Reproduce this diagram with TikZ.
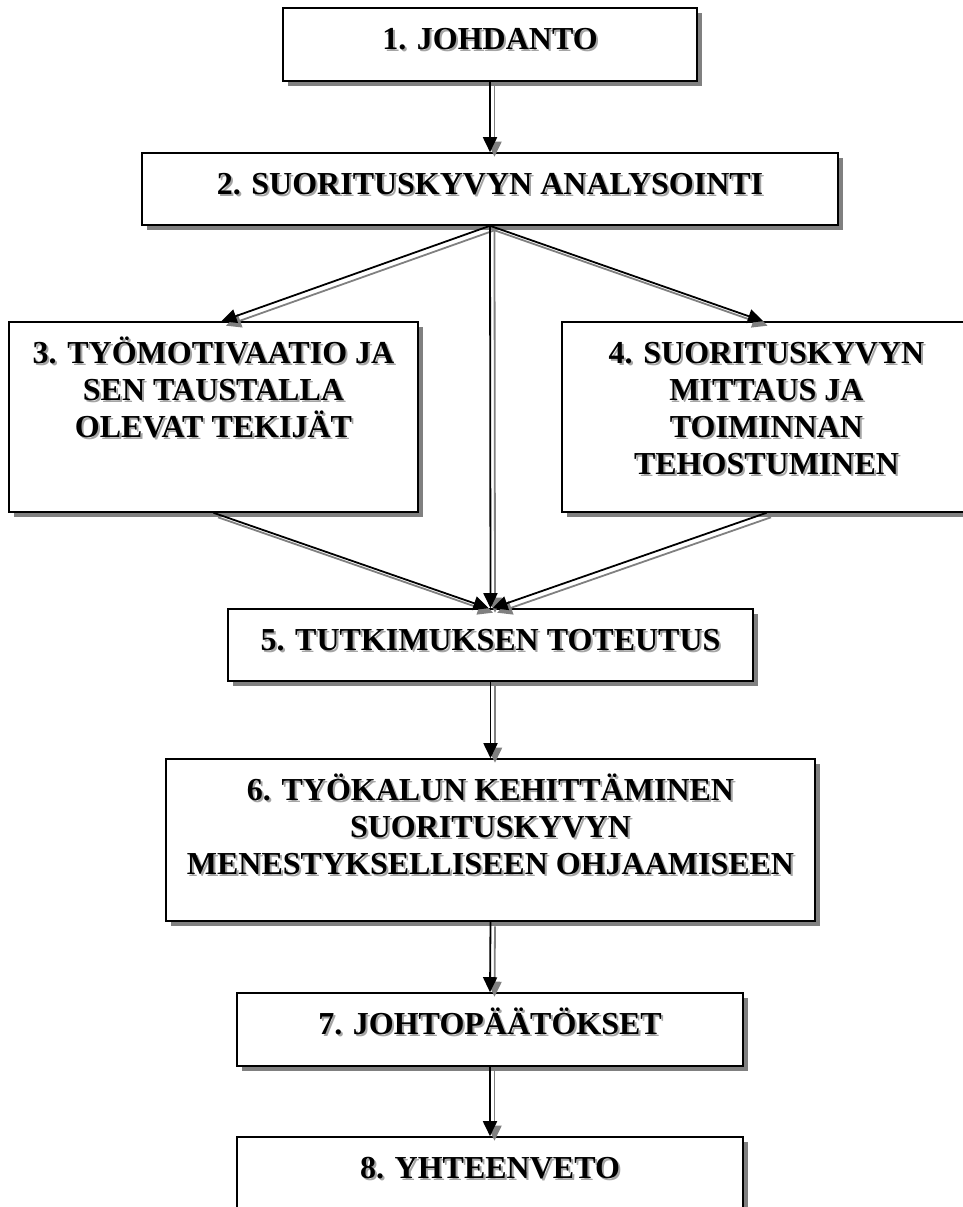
\documentclass[tikz,border=0pt]{standalone}
\usepackage{fontspec}
\setmainfont{Liberation Serif}
\usetikzlibrary{arrows.meta,shadows}
\definecolor{boxshade}{RGB}{128,128,128}
\definecolor{textshade}{RGB}{165,165,165}
% fixed-height strut so every first line sits on the same baseline
\newcommand\firstline{\rule{0pt}{30pt}}
% shadowed label hung from the top edge of a box
\newcommand\boxlabel[3]{%
  \node[lblshade] (#1s) at ([xshift=2pt,yshift=-14pt]#2.north) {\firstline #3};
  \node[lbl] (#1) at ([yshift=-12pt]#2.north) {\firstline #3};}

\begin{document}
\begin{tikzpicture}[x=1pt,y=-1pt,
  box/.style={draw, line width=1.6pt, fill=white, inner sep=0pt,
    drop shadow={shadow xshift=5pt, shadow yshift=-5pt, fill=boxshade, opacity=1}},
  lbl/.style={font=\bfseries\fontsize{32}{37}\selectfont, align=center,
    inner sep=0pt, anchor=north},
  lblshade/.style={lbl, text=textshade},
  conn/.style={line width=1.8pt, -{Triangle[length=15pt,width=14pt]}},
  connshade/.style={conn, draw=boxshade, transform canvas={xshift=4.5pt, yshift=-4.5pt}}
]
\useasboundingbox (0,0) rectangle (963,1207);

% boxes
\node[box, minimum width=414pt, minimum height=73pt]  (b1) at (490,44.5) {};
\node[box, minimum width=696pt, minimum height=72pt]  (b2) at (490,189) {};
\node[box, minimum width=409pt, minimum height=190pt] (b3) at (213.5,417) {};
\node[box, minimum width=409pt, minimum height=190pt] (b4) at (766.5,417) {};
\node[box, minimum width=525pt, minimum height=72pt]  (b5) at (490.5,645) {};
\node[box, minimum width=649pt, minimum height=162pt] (b6) at (490.5,840) {};
\node[box, minimum width=506pt, minimum height=73pt]  (b7) at (490,1029.5) {};
\node[box, minimum width=506pt, minimum height=110pt] (b8) at (490,1192) {};

% labels
\boxlabel{t1}{b1}{1. JOHDANTO}
\boxlabel{t2}{b2}{2. SUORITUSKYVYN ANALYSOINTI}
\boxlabel{t3}{b3}{3. TYÖMOTIVAATIO JA\\SEN TAUSTALLA\\OLEVAT TEKIJÄT}
\boxlabel{t4}{b4}{4. SUORITUSKYVYN\\MITTAUS JA\\TOIMINNAN\\TEHOSTUMINEN}
\boxlabel{t5}{b5}{5. TUTKIMUKSEN TOTEUTUS}
\boxlabel{t6}{b6}{6. TYÖKALUN KEHITTÄMINEN\\SUORITUSKYVYN\\MENESTYKSELLISEEN OHJAAMISEEN}
\boxlabel{t7}{b7}{7. JOHTOPÄÄTÖKSET}
\boxlabel{t8}{b8}{8. YHTEENVETO}

% connector shadows
\draw[connshade] (b1.south) -- (b2.north);
\draw[connshade] (b2.south) -- ([xshift=8pt]b3.north);
\draw[connshade] (b2.south) -- ([xshift=-3.5pt]b4.north);
\draw[connshade] (b2.south) -- (b5.north);
\draw[connshade] (b3.south) -- ([xshift=-2pt]b5.north);
\draw[connshade] (b4.south) -- ([xshift=2pt]b5.north);
\draw[connshade] (b5.south) -- (b6.north);
\draw[connshade] (b6.south) -- (b7.north);
\draw[connshade] (b7.south) -- (b8.north);

% connectors
\draw[conn] (b1.south) -- (b2.north);
\draw[conn] (b2.south) -- ([xshift=8pt]b3.north);
\draw[conn] (b2.south) -- ([xshift=-3.5pt]b4.north);
\draw[conn] (b2.south) -- (b5.north);
\draw[conn] (b3.south) -- ([xshift=-2pt]b5.north);
\draw[conn] (b4.south) -- ([xshift=2pt]b5.north);
\draw[conn] (b5.south) -- (b6.north);
\draw[conn] (b6.south) -- (b7.north);
\draw[conn] (b7.south) -- (b8.north);
\end{tikzpicture}
\end{document}
